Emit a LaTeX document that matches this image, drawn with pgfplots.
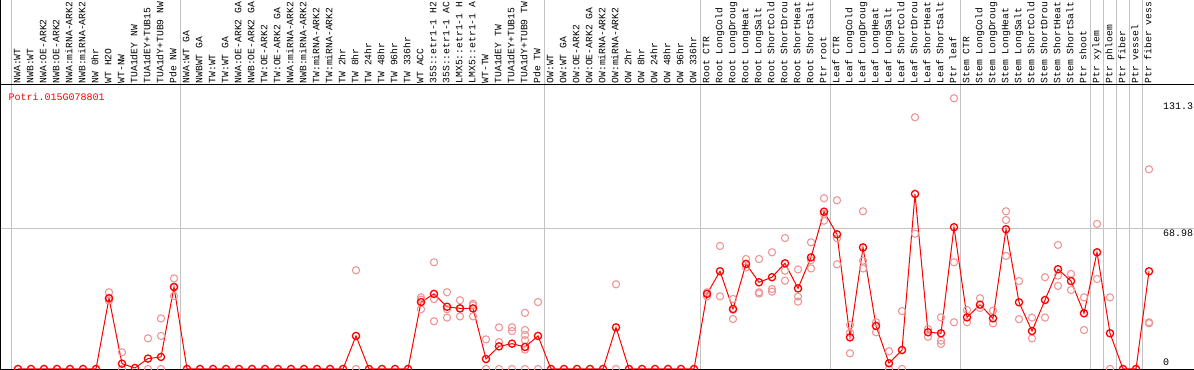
\documentclass[border=0pt]{standalone}
\usepackage{pgfplots}
\pgfplotsset{compat=1.18}
\usepackage{fontspec}
\newfontfamily\mono{Liberation Mono}
\newcommand\lbl{\mono\fontsize{9.7bp}{11bp}\selectfont}
\newcommand\ylbl{\mono\fontsize{10bp}{12bp}\selectfont}
\definecolor{mainred}{RGB}{255,0,0}
\definecolor{reprd}{RGB}{238,150,150}
\definecolor{gridg}{RGB}{195,195,195}
\begin{document}
\begin{tikzpicture}
\begin{axis}[
  scale only axis, width=1194bp, height=284bp,
  xmin=-1.3846, xmax=90.4615, ymin=0, ymax=139.2,
  axis line style={draw=none},
  major tick length=0pt,
  clip=false,
  xtick={0,...,87},
  xticklabel pos=upper,
  xticklabels={{NWA:WT},{NWB:WT},{NWA:OE-ARK2},{NWB:OE-ARK2},{NWA:miRNA-ARK2},{NWB:miRNA-ARK2},{NW 0hr},{WT H2O},{WT-NW},{TUA1dEY NW},{TUA1dEY+TUB15},{TUA1dY+TUB9 NW},{Pde NW},
   {NWA:WT GA},{NWBWT GA},{TW:WT},{TW:WT GA},{NWA:OE-ARK2 GA},{NWB:OE-ARK2 GA},{TW:OE-ARK2},{TW:OE-ARK2 GA},{NWA:miRNA-ARK2},{NWB:miRNA-ARK2},{TW:miRNA-ARK2},{TW:miRNA-ARK2},{TW 2hr},{TW 8hr},{TW 24hr},{TW 48hr},{TW 96hr},{TW 336hr},{WT ACC},{35S::etr1-1 H2},{35S::etr1-1 AC},{LMX5::etr1-1 H},{LMX5::etr1-1 A},{WT-TW},{TUA1dEY TW},{TUA1dEY+TUB15},{TUA1dY+TUB9 TW},{Pde TW},
   {OW:WT},{OW:WT GA},{OW:OE-ARK2},{OW:OE-ARK2 GA},{OW:miRNA-ARK2},{OW:miRNA-ARK2},{OW 2hr},{OW 8hr},{OW 24hr},{OW 48hr},{OW 96hr},{OW 336hr},
   {Root CTR},{Root LongCold},{Root LongDroug},{Root LongHeat},{Root LongSalt},{Root ShortCold},{Root ShortDrou},{Root ShortHeat},{Root ShortSalt},{Ptr root},
   {Leaf CTR},{Leaf LongCold},{Leaf LongDroug},{Leaf LongHeat},{Leaf LongSalt},{Leaf ShortCold},{Leaf ShortDrou},{Leaf ShortHeat},{Leaf ShortSalt},{Ptr leaf},
   {Stem CTR},{Stem LongCold},{Stem LongDroug},{Stem LongHeat},{Stem LongSalt},{Stem ShortCold},{Stem ShortDrou},{Stem ShortHeat},{Stem ShortSalt},{Ptr shoot},
   {Ptr xylem},{Ptr phloem},{Ptr fiber},{Ptr vessel},{Ptr fiber vess}},
  xticklabel style={rotate=90, anchor=west, font=\lbl, inner xsep=1.5bp, inner ysep=0pt, text height=6.3bp, text depth=1.5bp},
  ytick={68.98,131.3},
  yticklabels={68.98,131.3},
  yticklabel pos=right,
  yticklabel style={anchor=north west, xshift=-31bp, inner xsep=0pt, inner ysep=1.5bp, font=\ylbl},
  extra y ticks={0},
  extra y tick labels={0},
  extra y tick style={yticklabel style={anchor=south west, inner ysep=3bp}},
]
\coordinate (bl) at (rel axis cs:0,0);
\coordinate (tr) at (rel axis cs:1,1);
% grid and frame lines
\draw[gridg, line width=1bp] (axis cs:-1.3846,68.98) -- (axis cs:90.4615,68.98);
\pgfplotsinvokeforeach{-0.5,12.5,40.5,52.5,62.5,72.5,82.5,83.5,84.5,85.5,86.5}{
  \draw[gridg, line width=1bp] ([yshift=-2bp]axis cs:#1,0) -- ([yshift=88bp]axis cs:#1,139.2);
}
\draw[black, line width=1bp] ([yshift=-0.5bp]rel axis cs:0,0) -- ([yshift=-0.5bp]rel axis cs:1,0);
\draw[black, line width=1bp] ([yshift=0.5bp]rel axis cs:0,1) -- ([yshift=0.5bp]rel axis cs:1,1);
\draw[black, line width=1bp] ([xshift=0.6bp, yshift=-2bp]rel axis cs:0,0) -- ([xshift=0.6bp, yshift=88bp]rel axis cs:0,1);
% replicates
\addplot[only marks, mark=o, mark size=3.6bp, reprd, mark options={line width=1.1bp}] table {
x y
7 37.6
7 34.5
7 33.5
8 8.2
8 0
10 15.0
10 0
11 24.8
11 16.2
11 0
12 44.4
12 35.8
12 40.2
26 48.4
26 0
31 35.1
31 29.3
31 34.0
32 52.3
32 34.3
32 23.4
33 37.6
33 29.3
33 25.2
34 33.7
34 25.8
34 29.7
35 32.0
35 31.2
35 25.8
36 14.5
36 0
37 20.4
37 13.2
37 0
38 20.4
38 18.6
38 0
39 27.5
39 19.1
39 16.7
39 14.1
39 9.5
39 0
40 32.8
40 0
46 41.5
46 0
53 37.6
53 35.6
54 60.3
54 35.6
55 34.3
55 24.5
55 29.0
56 53.9
56 49.8
57 53.9
57 37.6
57 37.0
58 57.2
58 39.2
58 37.9
59 64.2
59 48.2
59 43.3
60 48.8
60 35.5
60 33.0
61 62.1
61 53.4
61 49.3
62 83.7
62 72.7
62 76.0
63 82.7
63 64.1
63 51.3
64 21.6
64 17.8
64 7.7
65 77.3
65 53.1
65 49.3
66 22.9
66 18.0
67 8.7
67 0
68 28.4
68 0
69 123.4
69 66.3
70 19.6
70 15.8
71 25.3
71 13.9
71 12.3
72 132.7
72 52.3
72 22.9
73 28.9
73 22.9
74 34.7
74 29.9
75 28.6
75 22.4
76 77.3
76 73.0
76 55.4
77 43.1
77 24.4
78 25.2
78 15.0
79 45.0
79 25.2
80 60.8
80 45.8
80 40.7
81 46.6
81 38.7
82 35.1
82 19.1
83 71.1
83 44.1
84 35.1
84 0
87 97.9
87 22.9
87 22.4
};
% means
\addplot[mainred, line width=1bp, mark=o, mark size=3.6bp, mark options={line width=1.3bp}] table {
x y
0 0
1 0
2 0
3 0
4 0
5 0
6 0
7 34.7
8 2.6
9 0.5
10 5.1
11 5.9
12 40.2
13 0
14 0
15 0
16 0
17 0
18 0
19 0
20 0
21 0
22 0
23 0
24 0
25 0
26 16.2
27 0
28 0
29 0
30 0
31 32.8
32 36.8
33 30.5
34 29.7
35 29.7
36 4.9
37 11.1
38 12.4
39 10.8
40 16.2
41 0
42 0
43 0
44 0
45 0
46 20.4
47 0
48 0
49 0
50 0
51 0
52 0
53 36.8
54 47.9
55 29.4
56 51.5
57 42.5
58 45.0
59 51.8
60 39.5
61 54.7
62 77.1
63 66.0
64 15.5
65 59.6
66 21.1
67 2.8
68 9.3
69 85.8
70 18.0
71 17.5
72 69.5
73 25.3
74 31.5
75 24.8
76 68.5
77 32.7
78 18.6
79 33.8
80 48.9
81 43.1
82 27.3
83 57.2
84 17.5
85 0
86 0
87 47.9
};
\node[anchor=west, inner sep=0pt, text=mainred, font=\ylbl] at ([xshift=8.5bp, yshift=-12bp]rel axis cs:0,1) {Potri.015G078801};
\end{axis}
\pgfresetboundingbox
\path[use as bounding box] ([yshift=-1bp]bl) rectangle ([yshift=85bp]tr);
\end{tikzpicture}
\end{document}
